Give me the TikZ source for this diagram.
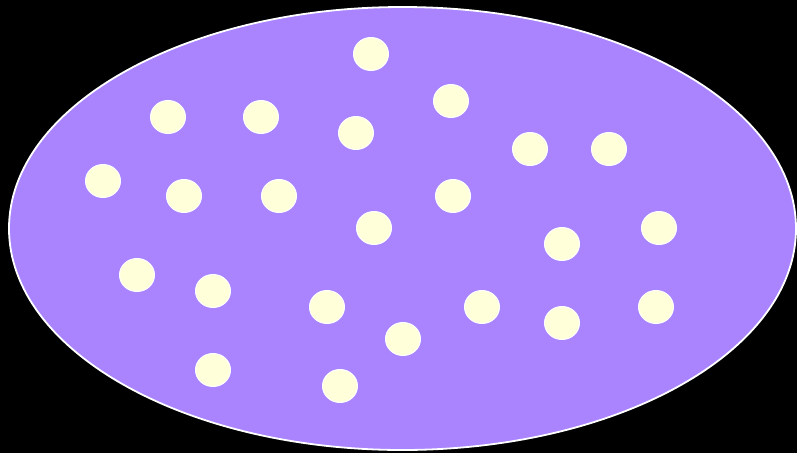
\documentclass[tikz,border=0pt]{standalone}
\usetikzlibrary{shapes.geometric}
\definecolor{bgpurple}{HTML}{A984FE}
\definecolor{dotyellow}{HTML}{FFFFD9}
\begin{document}
\begin{tikzpicture}[x=1pt,y=-1pt,
  dotnode/.style={ellipse, draw=white, line width=1pt, fill=dotyellow, minimum width=35pt, minimum height=33pt, inner sep=0pt},
  bignode/.style={ellipse, draw=white, line width=1.8pt, fill=bgpurple, minimum width=787pt, minimum height=443pt, inner sep=0pt}]
\fill[black] (0,0) rectangle (797,453);
\useasboundingbox (0,0) rectangle (797,453);
\node[bignode] (field) at (402.5,228.5) {};
\foreach \x/\y [count=\i] in {371/54,168/117,261/117,356/133,451/101,530/149,609/149,103/181,184/196,279/196,453/196,374/228,562/244,659/228,137/275,213/291,327/307,403/339,482/307,562/323,656/307,213/370,340/386}
  \node[dotnode] (d\i) at (\x,\y) {};
\end{tikzpicture}
\end{document}
